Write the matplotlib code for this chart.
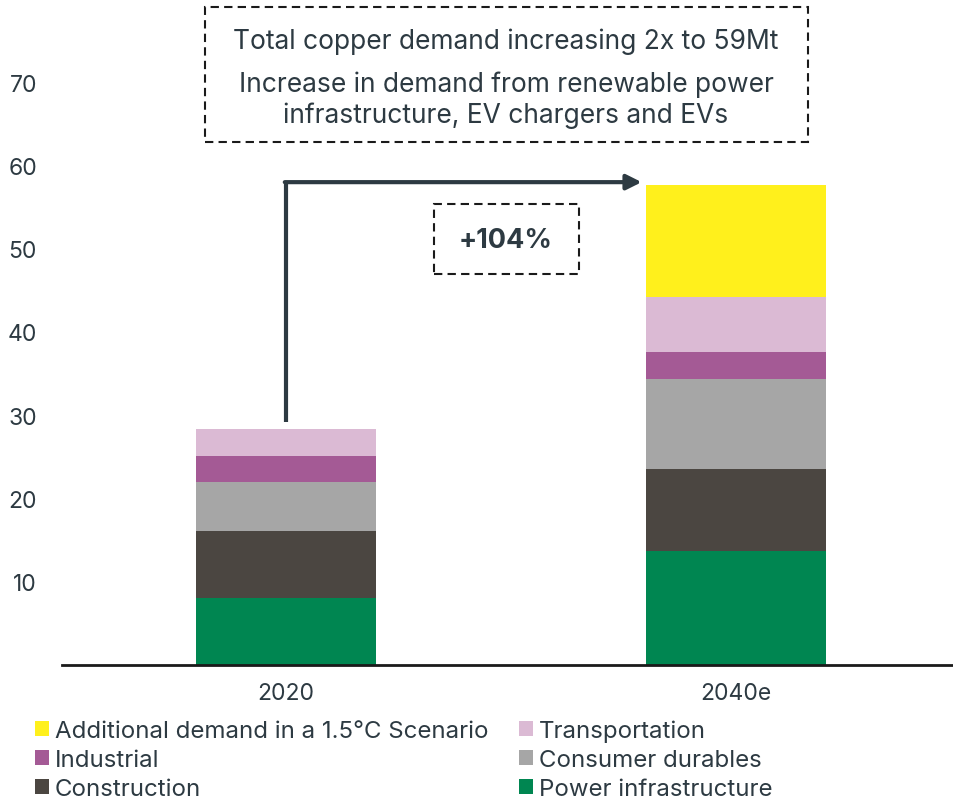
import matplotlib
matplotlib.use("Agg")
import matplotlib.pyplot as plt
from matplotlib.patches import Rectangle
import numpy as np

categories = ["2020", "2040e"]
series_names = ["Power infrastructure", "Construction", "Consumer durables",
                "Industrial", "Transportation", "Additional demand in a 1.5°C Scenario"]
power = [8.0, 13.7]
construction = [8.1, 9.9]
consumer = [5.9, 10.8]
industrial = [3.1, 3.2]
transport = [3.2, 6.6]
additional = [0.0, 13.5]
colors = ["#008651", "#4b4641", "#a6a6a6", "#a45a95", "#dbbad4", "#fff01c"]
yticks = [10, 20, 30, 40, 50, 60, 70]

txt = "#2d3a42"
plt.rcParams['font.family'] = ['Inter', 'DejaVu Sans']

fig = plt.figure(figsize=(9.54, 8.03), dpi=100)
ax = fig.add_axes([62/954, 1-666/803, 1-62/954, 666/803])

x = np.arange(len(categories))
series = [power, construction, consumer, industrial, transport, additional]
bottom = np.zeros(len(categories))
handles = []
for vals, c, name in zip(series, colors, series_names):
    h = ax.bar(x, vals, 0.4, bottom=bottom, color=c, label=name, linewidth=0)
    handles.append(h)
    bottom += np.array(vals)

ax.set_xlim(-0.498, 1.484)
ax.set_ylim(0, 80)
ax.set_yticks(yticks)
ax.set_yticklabels([str(t) for t in yticks], fontsize=16.5, color=txt)
ax.set_xticks(x)
ax.set_xticklabels(categories, fontsize=16.5, color=txt)
ax.tick_params(axis='both', length=0)
ax.tick_params(axis='y', pad=18)
ax.tick_params(axis='x', pad=12)
for s in ["left", "right", "top"]:
    ax.spines[s].set_visible(False)
ax.spines["bottom"].set_linewidth(2)
ax.spines["bottom"].set_color("#1a1a1a")

# arrow from 2020 total up and across to 2040e
tot = bottom
ax.plot([0, 0], [tot[0] + 0.9, 58.0], color=txt, lw=3, solid_capstyle='butt')
ax.annotate("", xy=(0.79, 58.0), xytext=(-0.003, 58.0),
            arrowprops=dict(arrowstyle="-|>,head_length=0.9,head_width=0.45",
                        color=txt, lw=3, shrinkA=0, shrinkB=0))

# +104% box
fig.patches.append(Rectangle((434/954, 1-275/803), 145/954, 70/803, transform=fig.transFigure,
                             fill=False, ec="#1a1a1a", ls=(0, (4, 2.5)), lw=1.5))
fig.text(506/954, 1-241/803, "+104%", ha='center', va='center', fontsize=19.5,
         fontweight='bold', color=txt)

# top text box
fig.patches.append(Rectangle((205/954, 1-143/803), 603/954, 135/803, transform=fig.transFigure,
                             fill=False, ec="#1a1a1a", ls=(0, (4, 2.5)), lw=1.5))
fig.text(506/954, 1-42/803, "Total copper demand increasing 2x to 59Mt", ha='center', va='center',
         fontsize=19, color=txt)
fig.text(506/954, 1-100/803, "Increase in demand from renewable power\ninfrastructure, EV chargers and EVs",
         ha='center', va='center', fontsize=19, color=txt, linespacing=1.2)

# legend rows: (additional, transportation), (industrial, consumer), (construction, power)
col1 = [handles[5], handles[3], handles[1]]
col2 = [handles[4], handles[2], handles[0]]
l1 = [series_names[5], series_names[3], series_names[1]]
l2 = [series_names[4], series_names[2], series_names[0]]
leg = fig.legend(col1 + col2, l1 + l2, ncol=2, loc='upper left',
                 bbox_to_anchor=(25/954, 1-711/803), frameon=False, fontsize=17.3,
                 handlelength=0.6, handleheight=0.6, handletextpad=0.25, columnspacing=1.25,
                 labelspacing=0.29, labelcolor=txt, borderaxespad=0)

fig.savefig("out.png", dpi=100)
